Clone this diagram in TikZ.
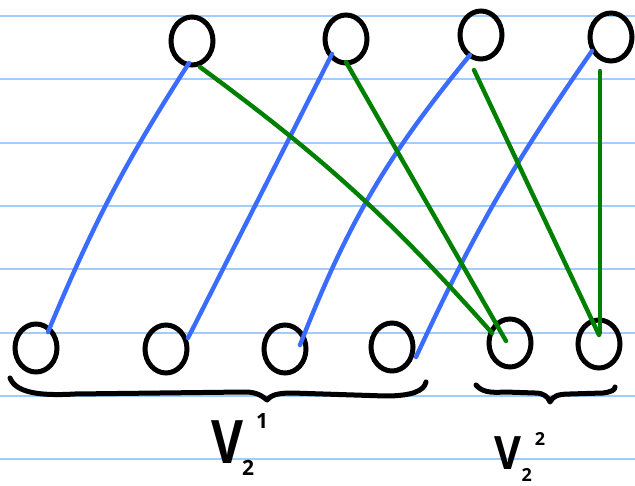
\documentclass[tikz,border=0pt]{standalone}
\usepackage{fontspec}
\setmainfont{Open Sans}
\usetikzlibrary{shapes.geometric,calc}
\definecolor{rulec}{RGB}{162,205,250}
\definecolor{eblue}{RGB}{58,108,255}
\definecolor{egreen}{RGB}{0,128,0}
\begin{document}
\begin{tikzpicture}[x=1pt,y=-1pt,
  vert/.style={ellipse, draw=black, line width=5pt, minimum width=42pt, minimum height=48pt, inner sep=0pt},
  bedge/.style={draw=eblue, line width=4.4pt, line cap=round},
  gedge/.style={draw=egreen, line width=4.4pt, line cap=round},
  ruling/.style={draw=rulec, line width=2pt},
  bracepath/.style={draw=black, line width=5pt, line cap=round, line join=round},
  lab/.style={anchor=base west, inner sep=0pt, text=black, font=\bfseries}]
\fill[white] (0,0) rectangle (635,486);
\useasboundingbox (0,0) rectangle (635,486);
\foreach \yy in {16,79.3,142.7,206,269.3,332.7,396,459.3}
  \draw[ruling] (0,\yy) -- (635,\yy);
% top vertices
\node[vert] (t1) at (192,41) {};
\node[vert] (t2) at (346,39) {};
\node[vert] (t3) at (481,35) {};
\node[vert] (t4) at (611,37) {};
% bottom vertices
\node[vert] (b1) at (36,348) {};
\node[vert] (b2) at (166,349) {};
\node[vert] (b3) at (285,349) {};
\node[vert] (b4) at (392,347) {};
\node[vert] (b5) at (510,343) {};
\node[vert] (b6) at (599,344) {};
% blue edges
\draw[bedge] ($(t1)+(-3,22)$) to[bend right=5] ($(b1)+(12,-16)$);
\draw[bedge] ($(t2)+(-14,15)$) to ($(b2)+(22,-11)$);
\draw[bedge] ($(t3)+(-11,20)$) to[bend right=9] ($(b3)+(15,-4)$);
\draw[bedge] ($(t4)+(-19,14)$) to[bend right=5] ($(b4)+(24,10)$);
% green edges
\draw[gedge] ($(t1)+(8,26)$) to[bend left=6] ($(b5)+(-18,-10)$);
\draw[gedge] ($(t2)+(0,23)$) to ($(b5)+(-4,-2)$);
\draw[gedge] ($(t3)+(-7,35)$) to ($(b6)+(0,-9)$);
\draw[gedge] ($(t4)+(-11,34)$) to ($(b6)+(1,-11)$);
% braces
\draw[bracepath] (10,378) .. controls (16,393) and (40,396) .. (75,394)
  -- (245,392) .. controls (258,392) and (263,397) .. (267,400)
  .. controls (271,395) and (278,393) .. (292,393)
  -- (385,396) .. controls (412,396) and (424,391) .. (426,382);
\draw[bracepath] (476,385) .. controls (482,392) and (490,393) .. (505,392)
  -- (535,393) .. controls (544,393) and (548,397) .. (550,402)
  .. controls (553,396) and (558,394) .. (570,394)
  -- (603,393) .. controls (611,392) and (615,390) .. (615,387);
% labels
\node[lab] (L1) at (211,463) {\fontsize{60}{60}\selectfont\scalebox{0.82}[1]{V}\kern-1pt\raisebox{-13pt}{\fontsize{21}{21}\selectfont 2}\kern2pt\raisebox{35pt}{\fontsize{21}{21}\selectfont 1}};
\node[lab] (L2) at (494,469) {\fontsize{46}{46}\selectfont\scalebox{0.9}[1]{V}\kern0.5pt\raisebox{-12pt}{\fontsize{18}{18}\selectfont 2}\kern3pt\raisebox{24pt}{\fontsize{18}{18}\selectfont 2}};
\end{tikzpicture}
\end{document}
